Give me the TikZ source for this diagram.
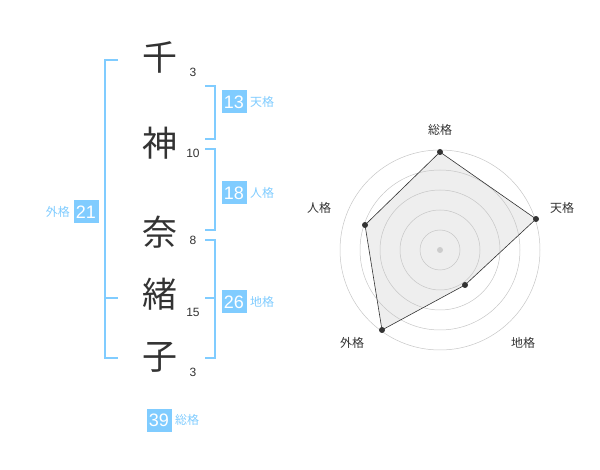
\documentclass[tikz,border=0pt]{standalone}
\usepackage{fontspec}
\setmainfont{Liberation Sans}
\newfontfamily\cjk{Noto Sans CJK JP}
\definecolor{kakublue}{HTML}{80CCFF}
\definecolor{inkgray}{HTML}{333333}
\tikzset{
  kanji/.style={font=\cjk\fontsize{35}{35}\selectfont, text=inkgray},
  strokes/.style={font=\fontsize{12}{12}\selectfont, text=inkgray},
  numbox/.style={fill=kakublue, text=white, font=\fontsize{18}{18}\selectfont, minimum width=25pt, minimum height=23pt, inner sep=0pt},
  kakuname/.style={font=\cjk\fontsize{12}{12}\selectfont, text=kakublue},
  brk/.style={draw=kakublue, line width=1.2pt},
  axislabel/.style={font=\cjk\fontsize{12}{12}\selectfont, text=inkgray},
  ring/.style={draw=gray!45, line width=0.5pt},
  dot/.style={circle, fill=inkgray, inner sep=0pt, minimum size=6pt}
}
\begin{document}
\begin{tikzpicture}[x=1pt, y=-1pt]
    \useasboundingbox (0,0) rectangle (600,470);
    %name
    \node[kanji] (c1) at (160, 57) {千};
    \node[kanji] (c2) at (160, 143) {神};
    \node[kanji] (c3) at (160, 232) {奈};
    \node[kanji] (c4) at (160, 294) {緒};
    \node[kanji] (c5) at (160, 357) {子};
    \node[strokes] (s1) at (193, 72) {3};
    \node[strokes] (s2) at (193, 153) {10};
    \node[strokes] (s3) at (193, 240) {8};
    \node[strokes] (s4) at (193, 312) {15};
    \node[strokes] (s5) at (193, 372) {3};
    %brackets
    \draw[brk] (118,60) -- (105,60) -- (105,358) -- (118,358);
    \draw[brk] (105,298) -- (118,298);
    \draw[brk] (205,86) -- (215,86) -- (215,139) -- (205,139);
    \draw[brk] (205,149) -- (215,149) -- (215,230) -- (205,230);
    \draw[brk] (205,240) -- (215,240) -- (215,358) -- (205,358);
    \draw[brk] (215,298) -- (205,298);
    %values
    \node[numbox] (ten) at (234,102) {13};
    \node[kakuname, anchor=west] (tenl) at (ten.east) {天格};
    \node[numbox] (jin) at (234,193) {18};
    \node[kakuname, anchor=west] (jinl) at (jin.east) {人格};
    \node[numbox] (chi) at (234,302) {26};
    \node[kakuname, anchor=west] (chil) at (chi.east) {地格};
    \node[numbox] (gai) at (86,212) {21};
    \node[kakuname, anchor=east] (gail) at (gai.west) {外格};
    \node[numbox] (sou) at (159,420) {39};
    \node[kakuname, anchor=west] (soul) at (sou.east) {総格};
    %radar
    \coordinate (ctr) at (440,250);
    \path (ctr) ++(0,-98) coordinate (csou);
    \path (ctr) ++(96,-31) coordinate (cten);
    \path (ctr) ++(25,35) coordinate (cchi);
    \path (ctr) ++(-58,80) coordinate (cgai);
    \path (ctr) ++(-75,-25) coordinate (cjin);
    \fill[gray!13] (csou) -- (cten) -- (cchi) -- (cgai) -- (cjin) -- cycle;
    \foreach \r in {20,40,60,80,100}
        \draw[ring] (ctr) circle (\r);
    \fill[gray!40] (ctr) circle (3);
    \draw[inkgray, line width=0.6pt] (csou) -- (cten) -- (cchi) -- (cgai) -- (cjin) -- cycle;
    \foreach \p in {csou,cten,cchi,cgai,cjin}
        \node[dot] (d\p) at (\p) {};
    \node[axislabel] (lsou) at (440,130) {総格};
    \node[axislabel] (lten) at (562,208) {天格};
    \node[axislabel] (lchi) at (523,343) {地格};
    \node[axislabel] (lgai) at (352,343) {外格};
    \node[axislabel] (ljin) at (319,208) {人格};
\end{tikzpicture}
\end{document}
